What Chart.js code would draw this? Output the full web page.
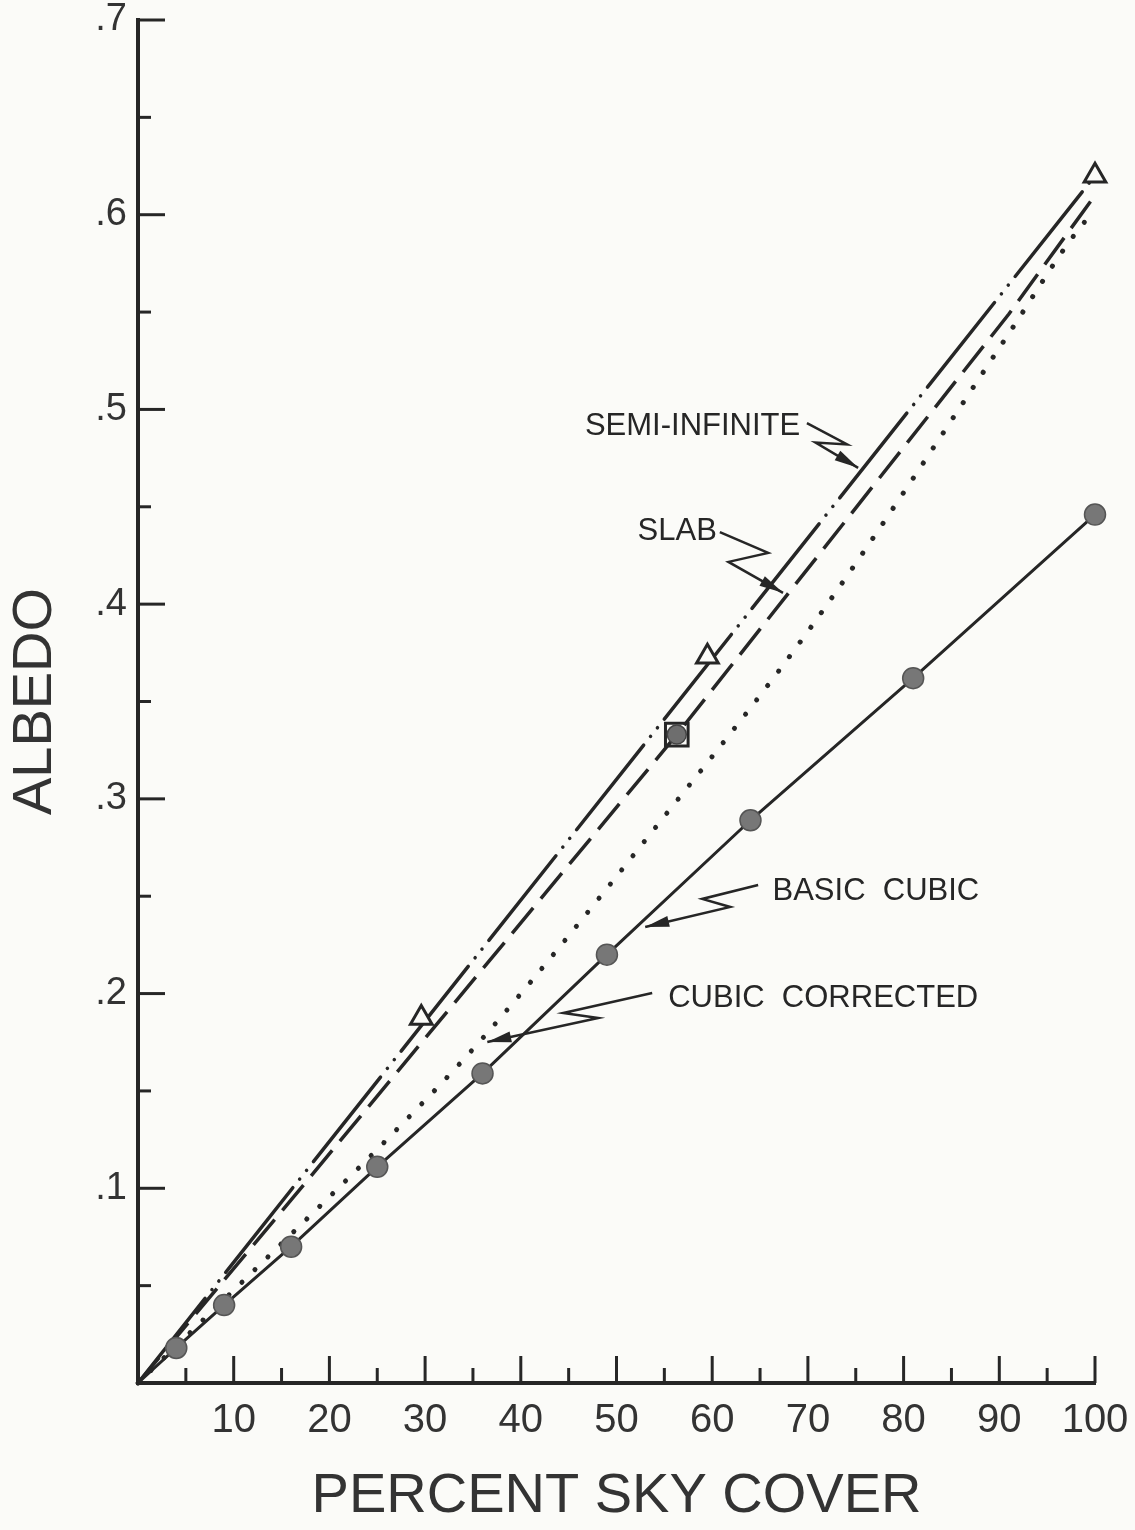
<!DOCTYPE html>
<html><head><meta charset="utf-8">
<script src="https://cdn.jsdelivr.net/npm/chart.js@4.4.0/dist/chart.umd.min.js"></script>
<style>html,body{margin:0;padding:0;background:#fbfbf8;}#wrap{position:relative;width:1135px;height:1530px;}</style>
</head><body><div id="wrap"><canvas id="c"></canvas></div>
<script>
// ---- data ----
const xTickLabels = ['10','20','30','40','50','60','70','80','90','100'];
const yTickLabels = ['.1','.2','.3','.4','.5','.6','.7'];

const basicX = [0, 4, 9, 16, 25, 36, 49, 64, 81, 100];
const basicY = [0, 0.018, 0.040, 0.070, 0.111, 0.159, 0.220, 0.289, 0.362, 0.446];

const correctedX = [0, 13, 27, 36, 55, 70, 91, 97, 100];
const correctedY = [0, 0.062, 0.130, 0.177, 0.291, 0.386, 0.539, 0.584, 0.603];

const slabX = [0, 16, 56.3, 91, 100];
const slabY = [0, 0.094, 0.333, 0.549, 0.61];

const semiX = [0, 100];
const semiY = [0, 0.62];

const triX = [29.6, 59.5, 100];
const triY = [0.1875, 0.373, 0.62];

const sqX = [56.3];
const sqY = [0.333];

// annotation labels (data coordinates)
const notes = [
  {text:'SEMI-INFINITE', at:[46.7,0.487], path:[[69.9,0.493],[74.1,0.482],[70.8,0.483],[75.25,0.470]]},
  {text:'SLAB', at:[52.2,0.433], path:[[60.8,0.437],[65.85,0.4263],[61.7,0.4217],[67.4,0.4058]]},
  {text:'BASIC  CUBIC', at:[66.3,0.248], path:[[64.8,0.2558],[58.96,0.2486],[61.88,0.2445],[53.0,0.2342]]},
  {text:'CUBIC  CORRECTED', at:[55.4,0.1931], path:[[53.73,0.2003],[44.44,0.19],[48.09,0.1875],[36.5,0.1751]]}
];

const pts = (xs, ys) => xs.map((x,i)=>({x:x, y:ys[i]}));
const INK = '#262626';
const FONT = "'Liberation Sans', Arial, sans-serif";

const bgPlugin = {
  id:'bg',
  beforeDraw(chart){ const c=chart.ctx; c.save(); c.fillStyle='#fbfbf8'; c.fillRect(0,0,chart.width,chart.height); c.restore(); }
};

const tickPlugin = {
  id:'innerTicks',
  afterDraw(chart){
    const c = chart.ctx, xs = chart.scales.x, ys = chart.scales.y, a = chart.chartArea;
    c.save(); c.strokeStyle = INK; c.lineWidth = 3; c.lineCap='butt';
    xs.ticks.forEach(t=>{
      if (t.value === 0) return;
      const px = xs.getPixelForValue(t.value);
      const major = Math.abs(t.value/10 - Math.round(t.value/10)) < 1e-6;
      const len = major ? 27 : 15;
      c.beginPath(); c.moveTo(px, a.bottom); c.lineTo(px, a.bottom - len); c.stroke();
    });
    ys.ticks.forEach(t=>{
      if (t.value === 0) return;
      const py = ys.getPixelForValue(t.value);
      const major = Math.abs(t.value*10 - Math.round(t.value*10)) < 1e-6;
      const len = major ? 27 : 13;
      c.beginPath(); c.moveTo(a.left, py); c.lineTo(a.left + len, py); c.stroke();
    });
    c.restore();
  }
};

const notePlugin = {
  id:'notes',
  afterDatasetsDraw(chart){
    const c = chart.ctx, xs = chart.scales.x, ys = chart.scales.y;
    const P = p => [xs.getPixelForValue(p[0]), ys.getPixelForValue(p[1])];
    c.save();
    c.strokeStyle = INK; c.fillStyle = INK; c.lineWidth = 2.5; c.lineJoin='miter';
    notes.forEach(n=>{
      const pp = n.path.map(P);
      c.beginPath(); c.moveTo(pp[0][0], pp[0][1]);
      for (let i=1;i<pp.length;i++) c.lineTo(pp[i][0], pp[i][1]);
      c.stroke();
      const a = pp[pp.length-2], b = pp[pp.length-1];
      const ang = Math.atan2(b[1]-a[1], b[0]-a[0]);
      const L = 24, W = 5.5;
      const bx = b[0] - L*Math.cos(ang), by = b[1] - L*Math.sin(ang);
      c.beginPath();
      c.moveTo(b[0], b[1]);
      c.lineTo(bx + W*Math.sin(ang), by - W*Math.cos(ang));
      c.lineTo(bx - W*Math.sin(ang), by + W*Math.cos(ang));
      c.closePath(); c.fill();
      const t = P(n.at);
      c.font = "31px " + FONT; c.textBaseline = 'alphabetic'; c.textAlign='left';
      c.fillText(n.text, t[0], t[1]);
    });
    c.restore();
  }
};

new Chart(document.getElementById('c'), {
  type: 'scatter',
  data: {
    datasets: [
      {label:'Square circle', data: pts(sqX, sqY), showLine:false, pointStyle:'circle', pointRadius:9.5,
       backgroundColor:'#6e6e6e', borderColor:'#444', borderWidth:1.5, clip:false},
      {label:'Triangles', data: pts(triX, triY), showLine:false, pointStyle:'triangle', pointRadius:12.5,
       backgroundColor:'#fbfbf8', borderColor:INK, borderWidth:3, clip:false},
      {label:'Square', data: pts(sqX, sqY), showLine:false, pointStyle:'rect', pointRadius:16,
       backgroundColor:'rgba(0,0,0,0)', borderColor:INK, borderWidth:3, clip:false},
      {label:'Basic cubic', data: pts(basicX, basicY), showLine:true, borderColor:INK, borderWidth:3,
       pointRadius: ctx => ctx.dataIndex === 0 ? 0 : 10.5, pointStyle:'circle',
       pointBackgroundColor:'#777', pointBorderColor:'#555', pointBorderWidth:1.5, tension:0, clip:false},
      {label:'Cubic corrected', data: pts(correctedX, correctedY), showLine:true, borderColor:INK, borderWidth:5,
       borderDash:[0.1, 18], borderCapStyle:'round', pointRadius:0, cubicInterpolationMode:'monotone', clip:false},
      {label:'Slab', data: pts(slabX, slabY), showLine:true, borderColor:INK, borderWidth:3.5,
       borderDash:[33, 12], borderCapStyle:'butt', pointRadius:0, tension:0, clip:false},
      {label:'Semi-infinite', data: pts(semiX, semiY), showLine:true, borderColor:INK, borderWidth:3.5,
       borderDash:[108, 11, 0.1, 11, 0.1, 11], borderCapStyle:'round', pointRadius:0, tension:0, clip:false}
    ]
  },
  options: {
    responsive:true, maintainAspectRatio:false, animation:false,
    layout:{padding:{top:0, right:0, left:0, bottom:0}},
    plugins:{legend:{display:false}, tooltip:{enabled:false}},
    scales:{
      x:{type:'linear', min:0, max:100,
         border:{display:true, width:4, color:INK},
         grid:{drawOnChartArea:false, drawTicks:false},
         ticks:{stepSize:5, autoSkip:false, maxRotation:0, padding:14, color:'#333',
                font:{family:FONT, size:40},
                callback:(v)=>{ const s=String(Math.round(v)); return (Math.abs(v-Math.round(v))<1e-6 && xTickLabels.includes(s)) ? s : ''; }},
         title:{display:true, text:'PERCENT SKY COVER', color:'#333', font:{family:FONT, size:56}, padding:{top:0,bottom:0}},
         afterFit:(s)=>{ s.height = 147; s.paddingRight = 40; s.paddingLeft = 0; }
      },
      y:{type:'linear', min:0, max:0.7,
         border:{display:true, width:4, color:INK},
         grid:{drawOnChartArea:false, drawTicks:false},
         ticks:{stepSize:0.05, autoSkip:false, padding:11, color:'#333',
                font:{family:FONT, size:38, lineHeight:1},
                callback:(v)=>{ const n=Math.round(v*10); return (Math.abs(v*10-n)<1e-6 && n>0) ? yTickLabels[n-1] : ''; }},
         title:{display:true, text:'ALBEDO', color:'#333', font:{family:FONT, size:56}, padding:{top:2,bottom:0}},
         afterFit:(s)=>{ s.width = 138; s.paddingTop = 20; s.paddingBottom = 0; }
      }
    }
  },
  plugins:[bgPlugin, tickPlugin, notePlugin]
});
</script>
</body></html>
